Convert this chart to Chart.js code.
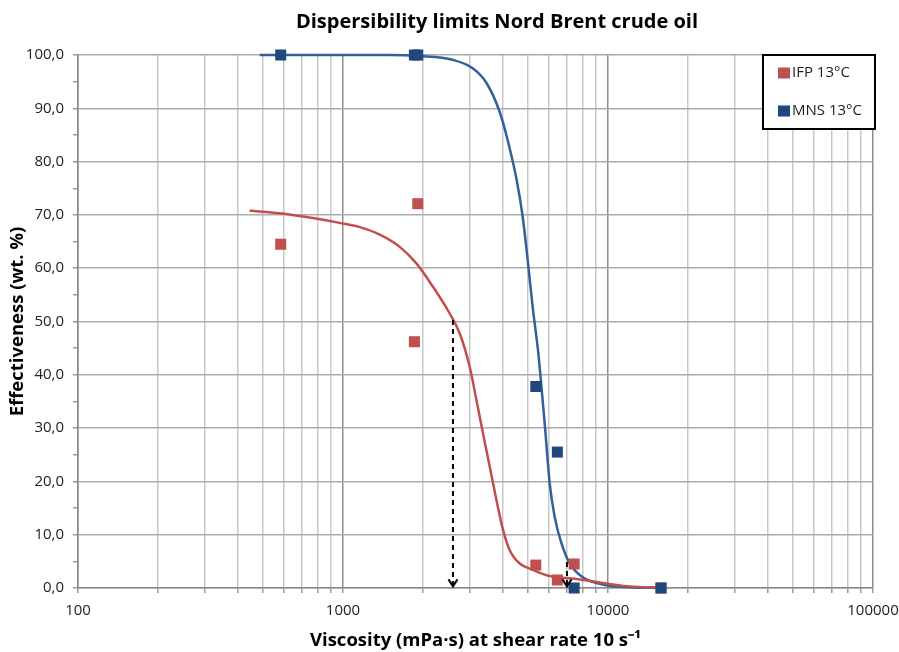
<!DOCTYPE html>
<html><head><meta charset="utf-8">
<script src="https://cdn.jsdelivr.net/npm/chart.js@4.4.1/dist/chart.umd.min.js"></script>
<style>html,body{margin:0;padding:0;background:#fff;}#wrap{width:899px;height:652px;position:relative;}</style>
</head><body><div id="wrap"><canvas id="c" width="899" height="652"></canvas></div>
<script>
const chartTitle = 'Dispersibility limits Nord Brent crude oil';
const xAxisTitle = 'Viscosity (mPa·s) at shear rate 10 s⁻¹';
const yAxisTitle = 'Effectiveness (wt. %)';
const seriesNames = ['IFP 13°C', 'MNS 13°C'];

const viscosity = [582, 1860, 1915, 5340, 6440, 7450, 15850];
const ifpEffect = [64.5, 46.2, 72.1, 4.3, 1.5, 4.5, 0.0];
const mnsEffect = [100, 100, 100, 37.8, 25.5, 0.0, 0.0];

const ifpFitX = [444, 577, 769, 971, 1156, 1376, 1637, 1892, 2186, 2527, 2756, 3007, 3187, 3376, 3577, 3793, 4016, 4257, 4644, 5212, 5871, 7822, 12076, 15850];
const ifpFitY = [70.8, 70.3, 69.4, 68.5, 67.7, 66.3, 64.0, 60.9, 56.5, 51.5, 47.8, 41.5, 35.3, 29.0, 22.8, 16.5, 10.9, 7.1, 4.6, 3.4, 2.4, 1.6, 0.3, 0.1];
const mnsFitX = [485, 700, 1050, 1500, 1947, 2594, 3086, 3485, 3903, 4183, 4524, 4767, 4977, 5197, 5443, 5549, 5769, 6026, 6294, 6672, 7171, 8026, 9887, 12076, 15850];
const mnsFitY = [100, 100, 100, 100, 99.8, 99.1, 97.5, 94.7, 89.3, 84.0, 76.5, 69.6, 61.5, 52.7, 44.6, 40.3, 30.9, 19.6, 13.3, 8.4, 4.6, 2.0, 0.5, 0.13, 0.0];

const arrowX = [2600, 7000];
const arrowFromY = [50.3, 4.9];
const arrowToY = [0.3, 0.3];

const xDecades = [100, 1000, 10000, 100000];
const xMinorSteps = [2, 3, 4, 5, 6, 7, 8, 9];
const xTickLabels = ['100', '1000', '10000', '100000'];
const yTickValues = [0, 5, 10, 15, 20, 25, 30, 35, 40, 45, 50, 55, 60, 65, 70, 75, 80, 85, 90, 95, 100];
const yTickLabels = ['0,0', '10,0', '20,0', '30,0', '40,0', '50,0', '60,0', '70,0', '80,0', '90,0', '100,0'];

const RED = '#C0504D', BLUE_M = '#1F497D', BLUE_L = '#33609A';
const FONT = 'Open Sans';

const xTickValues = [];
xDecades.forEach((d, i) => {
  xTickValues.push(d);
  if (i < xDecades.length - 1) xMinorSteps.forEach(m => xTickValues.push(d * m));
});

const pts = (xs, ys) => xs.map((x, i) => ({x: x, y: ys[i]}));

const titlePlugin = {
  id: 'titleDraw',
  afterDraw(chart) {
    const ctx = chart.ctx;
    ctx.save();
    ctx.font = 'bold 20px "' + FONT + '"';
    ctx.fillStyle = '#000';
    ctx.textAlign = 'center';
    ctx.textBaseline = 'middle';
    ctx.fillText(chartTitle, 497, 22);
    ctx.restore();
  }
};

const arrowPlugin = {
  id: 'arrowHeads',
  afterDatasetsDraw(chart) {
    const ctx = chart.ctx, xs = chart.scales.x, ys = chart.scales.y;
    ctx.save();
    ctx.strokeStyle = '#000';
    ctx.lineWidth = 2;
    arrowX.forEach((v, i) => {
      const px = xs.getPixelForValue(v), py = ys.getPixelForValue(arrowToY[i]);
      ctx.beginPath();
      ctx.moveTo(px - 4.5, py - 7);
      ctx.lineTo(px, py);
      ctx.lineTo(px + 4.5, py - 7);
      ctx.stroke();
    });
    ctx.restore();
  }
};

const legendPlugin = {
  id: 'boxLegend',
  afterDraw(chart) {
    const ctx = chart.ctx;
    ctx.save();
    ctx.fillStyle = '#fff';
    ctx.fillRect(763, 55, 112, 74);
    ctx.strokeStyle = '#000';
    ctx.lineWidth = 2;
    ctx.strokeRect(763, 55, 112, 74);
    const cols = [RED, BLUE_M];
    const ys = [73, 111];
    ctx.font = '15px "' + FONT + '"';
    ctx.textBaseline = 'middle';
    ctx.textAlign = 'left';
    seriesNames.forEach((n, i) => {
      ctx.fillStyle = cols[i];
      ctx.fillRect(778, ys[i] - 5.5, 12, 11);
      ctx.fillStyle = '#222';
      ctx.fillText(n, 792, ys[i]);
    });
    ctx.restore();
  }
};

new Chart(document.getElementById('c'), {
  type: 'scatter',
  data: {
    datasets: [
      {label: seriesNames[0], data: pts(viscosity, ifpEffect), showLine: false, pointStyle: 'rect',
       pointRadius: 7.8, pointHoverRadius: 7.8, backgroundColor: RED, borderColor: RED, borderWidth: 0, order: 1, clip: false},
      {label: seriesNames[1], data: pts(viscosity, mnsEffect), showLine: false, pointStyle: 'rect',
       pointRadius: 7.8, pointHoverRadius: 7.8, backgroundColor: BLUE_M, borderColor: BLUE_M, borderWidth: 0, order: 0, clip: false},
      {label: 'fitIFP', data: pts(ifpFitX, ifpFitY), showLine: true, pointRadius: 0, borderColor: RED,
       borderWidth: 2.5, cubicInterpolationMode: 'monotone', order: 3, clip: false},
      {label: 'fitMNS', data: pts(mnsFitX, mnsFitY), showLine: true, pointRadius: 0, borderColor: BLUE_L,
       borderWidth: 2.5, cubicInterpolationMode: 'monotone', order: 3, clip: false},
      {label: 'arrow1', data: [{x: arrowX[0], y: arrowFromY[0]}, {x: arrowX[0], y: arrowToY[0]}], showLine: true,
       pointRadius: 0, borderColor: '#000', borderWidth: 2, borderDash: [5, 4], order: 2},
      {label: 'arrow2', data: [{x: arrowX[1], y: arrowFromY[1]}, {x: arrowX[1], y: arrowToY[1]}], showLine: true,
       pointRadius: 0, borderColor: '#000', borderWidth: 2, borderDash: [5, 4], order: 2}
    ]
  },
  options: {
    responsive: false,
    animation: false,
    events: [],
    layout: {padding: {top: 55, right: 26, left: 0, bottom: 0}},
    plugins: {legend: {display: false}, title: {display: false}, tooltip: {enabled: false}},
    scales: {
      x: {
        type: 'logarithmic', min: 100, max: 100000,
        afterBuildTicks: s => { s.ticks = xTickValues.map(v => ({value: v})); },
        afterFit: s => { s.height = 64; s.paddingLeft = 0; s.paddingRight = 0; },
        ticks: {
          autoSkip: false, maxRotation: 0, minRotation: 0, padding: 9,
          color: '#222', font: {family: FONT, size: 15},
          callback: v => { const k = xDecades.indexOf(v); return k >= 0 ? xTickLabels[k] : ''; }
        },
        grid: {
          color: c => (c.tick && xDecades.indexOf(c.tick.value) >= 0) ? '#8e8e8e' : '#c8c8c8',
          lineWidth: 1.5, tickLength: 5, tickColor: '#9a9a9a'
        },
        border: {color: '#8a8a8a', width: 1.5},
        title: {display: true, text: xAxisTitle, color: '#000', font: {family: FONT, size: 18.5, weight: 'bold'}, padding: {top: 0, bottom: 0}}
      },
      y: {
        type: 'linear', min: 0, max: 100,
        afterBuildTicks: s => { s.ticks = yTickValues.map(v => ({value: v})); },
        afterFit: s => { s.width = 78; s.paddingTop = 0; s.paddingBottom = 0; },
        ticks: {
          autoSkip: false, padding: 9, color: '#222', font: {family: FONT, size: 15},
          callback: v => (v % 10 === 0) ? yTickLabels[v / 10] : ''
        },
        grid: {
          color: c => (c.tick && c.tick.value % 10 === 0) ? '#ababab' : 'rgba(0,0,0,0)',
          lineWidth: 1.5, tickLength: 5, tickColor: '#9a9a9a'
        },
        border: {color: '#8a8a8a', width: 1.5},
        title: {display: true, text: yAxisTitle, color: '#000', font: {family: FONT, size: 18.5, weight: 'bold'}, padding: {top: 7, bottom: 0}}
      }
    }
  },
  plugins: [titlePlugin, arrowPlugin, legendPlugin]
});
</script></body></html>
